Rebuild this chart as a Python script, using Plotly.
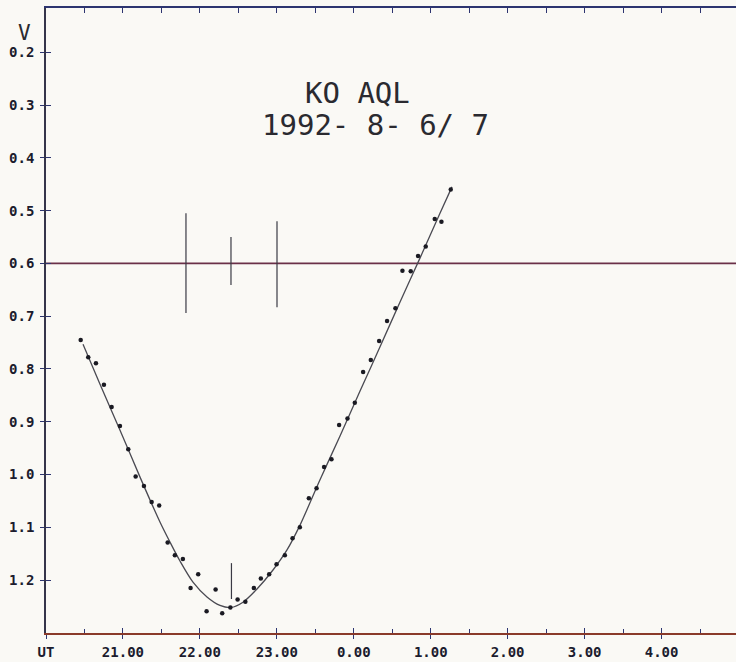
import plotly.graph_objects as go

# ---- data (time in hours UT, continuing past midnight as 24+) ----
obs_time = [20.451, 20.549, 20.649, 20.753, 20.853, 20.961, 21.069, 21.165, 21.273, 21.373,
            21.471, 21.581, 21.675, 21.779, 21.879, 21.978, 22.087, 22.204, 22.290, 22.396,
            22.490, 22.591, 22.701, 22.792, 22.900, 22.996, 23.104, 23.204, 23.299, 23.416,
            23.516, 23.614, 23.710, 23.809, 23.918, 24.013, 24.121, 24.221, 24.329, 24.432,
            24.541, 24.632, 24.740, 24.835, 24.935, 25.052, 25.139, 25.260]
obs_mag = [0.745, 0.778, 0.789, 0.830, 0.872, 0.908, 0.952, 1.004, 1.022, 1.052,
           1.059, 1.129, 1.153, 1.160, 1.215, 1.189, 1.259, 1.218, 1.263, 1.252,
           1.237, 1.241, 1.215, 1.197, 1.189, 1.170, 1.153, 1.121, 1.100, 1.045,
           1.026, 0.986, 0.971, 0.906, 0.894, 0.864, 0.806, 0.783, 0.747, 0.709,
           0.685, 0.614, 0.615, 0.586, 0.568, 0.516, 0.521, 0.460]

fit_time = [20.481, 20.702, 20.962, 21.222, 21.481, 21.611, 21.741, 21.910, 22.092, 22.261,
            22.404, 22.560, 22.742, 22.950, 23.132, 23.301, 23.561, 23.821, 24.081, 24.341,
            24.601, 24.860, 25.120, 25.276]
fit_mag = [0.753, 0.829, 0.916, 1.005, 1.090, 1.128, 1.164, 1.204, 1.232, 1.248,
           1.252, 1.242, 1.217, 1.181, 1.143, 1.096, 1.010, 0.927, 0.842, 0.758,
           0.673, 0.590, 0.505, 0.455]

# vertical marker bars: time, mag top, mag bottom
bar_time = [21.819, 22.404, 23.002, 22.410]
bar_top = [0.505, 0.550, 0.520, 1.168]
bar_bottom = [0.694, 0.641, 0.683, 1.236]

ref_mag = 0.6

x_tickvals = [20, 21, 22, 23, 24, 25, 26, 27, 28]
x_ticktext = ["UT", "21.00", "22.00", "23.00", "0.00", "1.00", "2.00", "3.00", "4.00"]
y_tickvals = [0.2, 0.3, 0.4, 0.5, 0.6, 0.7, 0.8, 0.9, 1.0, 1.1, 1.2]
y_ticktext = ["0.2", "0.3", "0.4", "0.5", "0.6", "0.7", "0.8", "0.9", "1.0", "1.1", "1.2"]

title_line1 = "KO AQL"
title_line2 = "1992- 8- 6/ 7"
y_label = "V"

XR = [20.0, 28.967]
YR = [1.3004, 0.116]

ink = "#1c1c2e"
axis_col = "#2d3570"
bg = "#faf9f5"
lab_font = dict(family="DejaVu Sans Mono", size=14, color=ink, weight="bold")
plot_font = "DejaVu Sans Mono"

fig = go.Figure()

# fitted curve
fig.add_trace(go.Scatter(x=fit_time, y=fit_mag, mode="lines",
                         line=dict(color="#4a4a52", width=1.3, shape="spline", smoothing=0.8),
                         hoverinfo="skip", showlegend=False))

# vertical bars
bx, by = [], []
for t, a, b in zip(bar_time, bar_top, bar_bottom):
    bx += [t, t, None]
    by += [a, b, None]
fig.add_trace(go.Scatter(x=bx, y=by, mode="lines",
                         line=dict(color="#3a3a44", width=1.2),
                         hoverinfo="skip", showlegend=False))

# observations
fig.add_trace(go.Scatter(x=obs_time, y=obs_mag, mode="markers",
                         marker=dict(color="#1a1a22", size=4.5),
                         showlegend=False))

# reference horizontal line at 0.6
fig.add_hline(y=ref_mag, line=dict(color="#6a3048", width=1.6), layer="below")

common_x = dict(range=XR, tickvals=x_tickvals, showgrid=False, zeroline=False, automargin=False)
common_y = dict(range=YR, tickvals=y_tickvals, showgrid=False, zeroline=False, automargin=False)

fig.update_layout(
    width=736, height=662,
    margin=dict(l=46, r=0, t=8, b=29, autoexpand=False),
    paper_bgcolor=bg, plot_bgcolor=bg,
    xaxis=dict(**common_x, ticktext=x_ticktext, ticks="outside", ticklen=4,
               tickcolor=axis_col, tickwidth=1.2, showline=True, linecolor="#8a3a2a",
               linewidth=2, tickfont=lab_font, ticklabelstandoff=1),
    xaxis2=dict(**common_x, overlaying="x", side="bottom", ticks="inside", ticklen=5,
                tickcolor=axis_col, tickwidth=1.2, showticklabels=False, showline=False,
                minor=dict(dtick=0.5, ticks="inside", ticklen=4, tickcolor=axis_col, tickwidth=1.2),
                matches="x"),
    xaxis3=dict(**common_x, overlaying="x", side="top", ticks="inside", ticklen=5,
                tickcolor=axis_col, tickwidth=1.2, showticklabels=False, showline=True,
                linecolor=axis_col, linewidth=2,
                minor=dict(dtick=0.5, ticks="inside", ticklen=5, tickcolor=axis_col, tickwidth=1.2),
                matches="x"),
    yaxis=dict(**common_y, ticktext=y_ticktext, ticks="outside", ticklen=4,
               tickcolor=axis_col, tickwidth=1.4, showline=True, linecolor="#35354a",
               linewidth=1.6, tickfont=lab_font, ticklabelstandoff=3),
    yaxis2=dict(**common_y, overlaying="y", side="left", ticks="inside", ticklen=5,
                tickcolor=axis_col, tickwidth=1.4, showticklabels=False, showline=False,
                matches="y"),
    font=dict(family=plot_font, color=ink),
)

# dummy invisible traces to activate the overlay axes
fig.add_trace(go.Scatter(x=[XR[0]], y=[YR[0]], xaxis="x2", yaxis="y2", mode="markers",
                         marker=dict(opacity=0), hoverinfo="skip", showlegend=False))
fig.add_trace(go.Scatter(x=[XR[0]], y=[YR[0]], xaxis="x3", yaxis="y2", mode="markers",
                         marker=dict(opacity=0), hoverinfo="skip", showlegend=False))

fig.add_annotation(text=title_line1, xref="paper", yref="paper",
                   x=(357 - 46) / 690, y=(633 - 93) / 625, showarrow=False,
                   font=dict(family=plot_font, size=29, color="#2a2a30"),
                   xanchor="center", yanchor="middle")
fig.add_annotation(text=title_line2, xref="paper", yref="paper",
                   x=(375 - 46) / 690, y=(633 - 125) / 625, showarrow=False,
                   font=dict(family=plot_font, size=29, color="#2a2a30"),
                   xanchor="center", yanchor="middle")
fig.add_annotation(text=y_label, xref="paper", yref="paper",
                   x=(24.5 - 46) / 690, y=(633 - 33) / 625, showarrow=False,
                   font=dict(family=plot_font, size=21, color="#2a2a30"),
                   xanchor="center", yanchor="middle")

fig.write_html("out.html",
               config={"displayModeBar": False},
               post_script="document.body.style.margin='0';document.body.style.overflow='hidden';document.body.style.background='%s';" % bg)
